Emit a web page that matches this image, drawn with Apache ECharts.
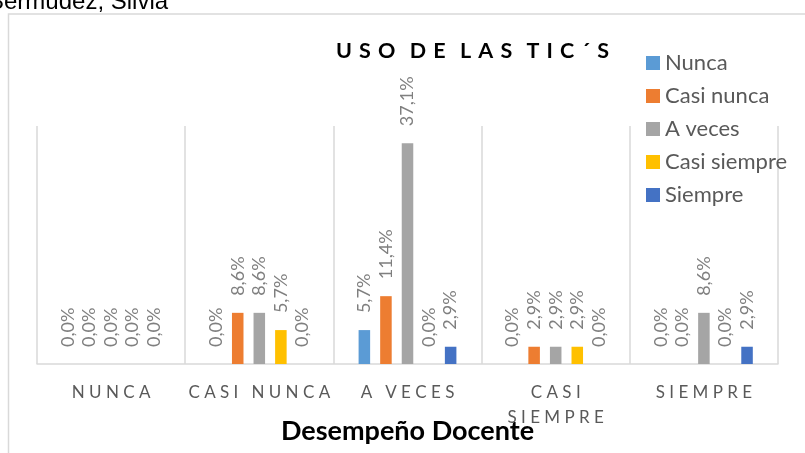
<!DOCTYPE html>
<html>
<head>
<meta charset="utf-8">
<script src="https://cdn.jsdelivr.net/npm/echarts@6/dist/echarts.min.js"></script>
<style>html,body{margin:0;padding:0;background:#fff;}#c{width:805px;height:453px;}</style>
</head>
<body>
<div id="c"></div>
<script>
var categories = ['Nunca', 'Casi nunca', 'A veces', 'Casi siempre', 'Siempre'];
var tickLabels = ['N U N C A', 'C A S I   N U N C A', 'A   V E C E S', 'C A S I\nS I E M P R E', 'S I E M P R E'];
var seriesNames = ['Nunca', 'Casi nunca', 'A veces', 'Casi siempre', 'Siempre'];
var nunca = [0, 0, 5.7, 0, 0];
var casiNunca = [0, 8.6, 11.4, 2.9, 0];
var aVeces = [0, 8.6, 37.1, 2.9, 8.6];
var casiSiempre = [0, 5.7, 0, 2.9, 0];
var siempre = [0, 0, 2.9, 0, 2.9];
var seriesValues = [nunca, casiNunca, aVeces, casiSiempre, siempre];
var colors = ['#5b9bd5', '#ed7d31', '#a5a5a5', '#ffc000', '#4472c4'];
var S = '\u2004';
var W = '\u2004\u2004';
var chartTitle = ['U', 'S', 'O'].join(S) + W + ['D', 'E'].join(S) + W + ['L', 'A', 'S'].join(S) + W + ['T', 'I', 'C', '\u00B4', 'S'].join(S);
var axisTitle = 'Desempeño Docente';
var author = 'Bermúdez, Silvia';

var chart = echarts.init(document.getElementById('c'), null, {renderer: 'canvas'});
var series = seriesNames.map(function (n, i) {
  return {
    name: n,
    type: 'bar',
    data: seriesValues[i],
    barCategoryGap: '34%',
    barGap: '87%',
    itemStyle: {color: colors[i]},
    label: {
      show: true,
      position: 'top',
      rotate: 90,
      align: 'left',
      verticalAlign: 'middle',
      distance: 17,
      fontFamily: 'Lato',
      fontSize: 18,
      color: '#7f7f7f',
      formatter: function (p) { return p.value.toFixed(1).replace('.', ',') + '%'; }
    }
  };
});

chart.setOption({
  animation: false,
  color: colors,
  title: {
    text: chartTitle,
    left: 331,
    top: 35,
    textStyle: {fontFamily: 'Lato', fontWeight: 'bold', fontSize: 21.5, color: '#000'}
  },
  legend: {
    orient: 'vertical',
    left: 641,
    top: 47,
    itemWidth: 14,
    itemHeight: 14,
    itemGap: 11,
    icon: 'rect',
    data: seriesNames,
    textStyle: {fontFamily: 'Lato', fontSize: 22, color: '#595959'}
  },
  grid: {left: 37, right: 27, top: 126, bottom: 89, containLabel: false},
  xAxis: {
    type: 'category',
    data: categories,
    name: axisTitle,
    nameLocation: 'middle',
    nameGap: 54,
    nameMoveOverlap: false,
    nameTextStyle: {fontFamily: 'Lato', fontWeight: 'bold', fontSize: 27, color: '#000'},
    axisLine: {lineStyle: {color: '#d9d9d9', width: 1.5}},
    axisTick: {show: false},
    splitLine: {show: true, lineStyle: {color: '#d9d9d9', width: 1.5}},
    axisLabel: {
      fontFamily: 'Lato',
      fontSize: 17,
      color: '#595959',
      lineHeight: 25,
      margin: 16,
      interval: 0,
      formatter: function (v, i) { return tickLabels[i]; }
    }
  },
  yAxis: {type: 'value', min: 0, max: 40, show: false, splitLine: {show: false}},
  series: series,
  graphic: [
    {type: 'rect', shape: {x: 8.5, y: 14, width: 1000, height: 1000}, style: {fill: 'none', stroke: '#d9d9d9', lineWidth: 1.5}, silent: true},
    {type: 'text', x: -12, y: 2, style: {text: author, font: '24px "Liberation Sans"', fill: '#000', verticalAlign: 'middle'}, silent: true}
  ]
});
</script>
</body>
</html>
